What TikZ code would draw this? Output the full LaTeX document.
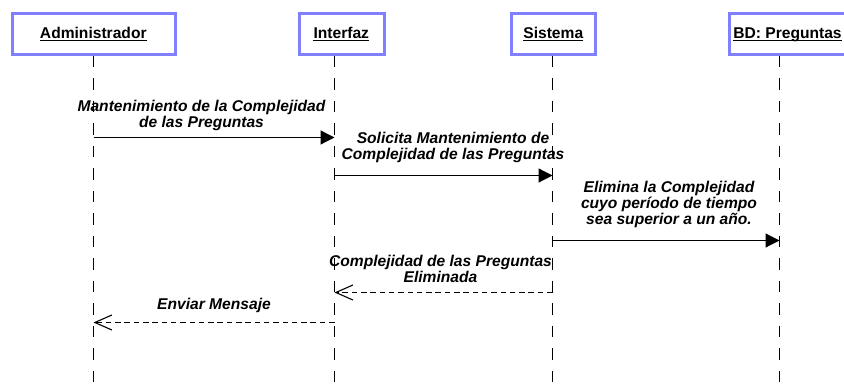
\documentclass[tikz,border=0pt]{standalone}
\usepackage{fontspec}
\setmainfont{Liberation Sans}
\usetikzlibrary{arrows.meta}
\definecolor{boxblue}{RGB}{128,128,255}
\begin{document}
\begin{tikzpicture}[x=1pt,y=-1pt,
  hbox/.style={draw=boxblue, line width=3pt, fill=white, minimum height=40.7pt, inner sep=0},
  htext/.style={font=\fontsize{15.6}{16}\selectfont\bfseries, inner sep=0, anchor=base},
  uline/.style={line width=1.5pt},
  lifeline/.style={line width=1.2pt, dash pattern=on 11.5pt off 11pt},
  msg/.style={line width=1.2pt, -{Triangle[length=14pt,width=14pt]}},
  ret/.style={line width=1.1pt, dash pattern=on 5.5pt off 3.8pt, -{Straight Barb[length=17pt,width=15pt]}},
  lbl/.style={font=\fontsize{15.6}{16.3}\selectfont\bfseries\itshape, inner sep=0, anchor=base, align=center}
]
\useasboundingbox (0,0) rectangle (844,387);
\clip (0,0) rectangle (844,387);
\fill[white] (0,0) rectangle (844,387);

% lifelines
\coordinate (admT) at (93.5,56);  \coordinate (admB) at (93.5,387);
\coordinate (intT) at (334.5,56); \coordinate (intB) at (334.5,387);
\coordinate (sisT) at (552.5,56); \coordinate (sisB) at (552.5,387);
\coordinate (bdT)  at (779.5,56); \coordinate (bdB)  at (779.5,387);
\draw[lifeline] (admT) -- (admB);
\draw[lifeline] (intT) -- (intB);
\draw[lifeline] (sisT) -- (sisB);
\draw[lifeline] (bdT) -- (bdB);

% header boxes
\node[hbox, minimum width=162.7pt] (admBox) at (93.85,34.15) {};
\node[hbox, minimum width=84.4pt]  (intBox) at (342,34.15) {};
\node[hbox, minimum width=84.3pt]  (sisBox) at (553.65,34.15) {};
\node[hbox, minimum width=116.4pt] (bdBox)  at (788,34.15) {};

\node[htext] (admTxt) at (93.3,38.3) {Administrador};
\node[htext] (intTxt) at (341.3,38.3) {Interfaz};
\node[htext] (sisTxt) at (553.3,38.3) {Sistema};
\node[htext] (bdTxt)  at (787.5,38.3) {BD: Preguntas};
\foreach \t in {admTxt,intTxt,sisTxt,bdTxt}
  \draw[uline] ([yshift=-2pt]\t.base west) -- ([yshift=-2pt]\t.base east);

% messages
\draw[msg] (admT |- 0,137.5) -- (intT |- 0,137.5);
\node[lbl] (l1) at (201.5,128) {Mantenimiento de la Complejidad\\de las Preguntas};

\draw[msg] (intT |- 0,175.5) -- (sisT |- 0,175.5);
\node[lbl] (l2) at (453,159.5) {Solicita Mantenimiento de\\Complejidad de las Preguntas};

\draw[msg] (sisT |- 0,240.5) -- (bdT |- 0,240.5);
\node[lbl] (l3) at (669,225) {Elimina la Complejidad\\cuyo período de tiempo\\sea superior a un año.};

\draw[ret] (sisT |- 0,292.5) -- (intT |- 0,292.5);
\node[lbl] (l4) at (440.5,282.5) {Complejidad de las Preguntas\\Eliminada};

\draw[ret] (intT |- 0,322.5) -- (admT |- 0,322.5);
\node[lbl] (l5) at (214,310) {Enviar Mensaje};
\end{tikzpicture}
\end{document}
